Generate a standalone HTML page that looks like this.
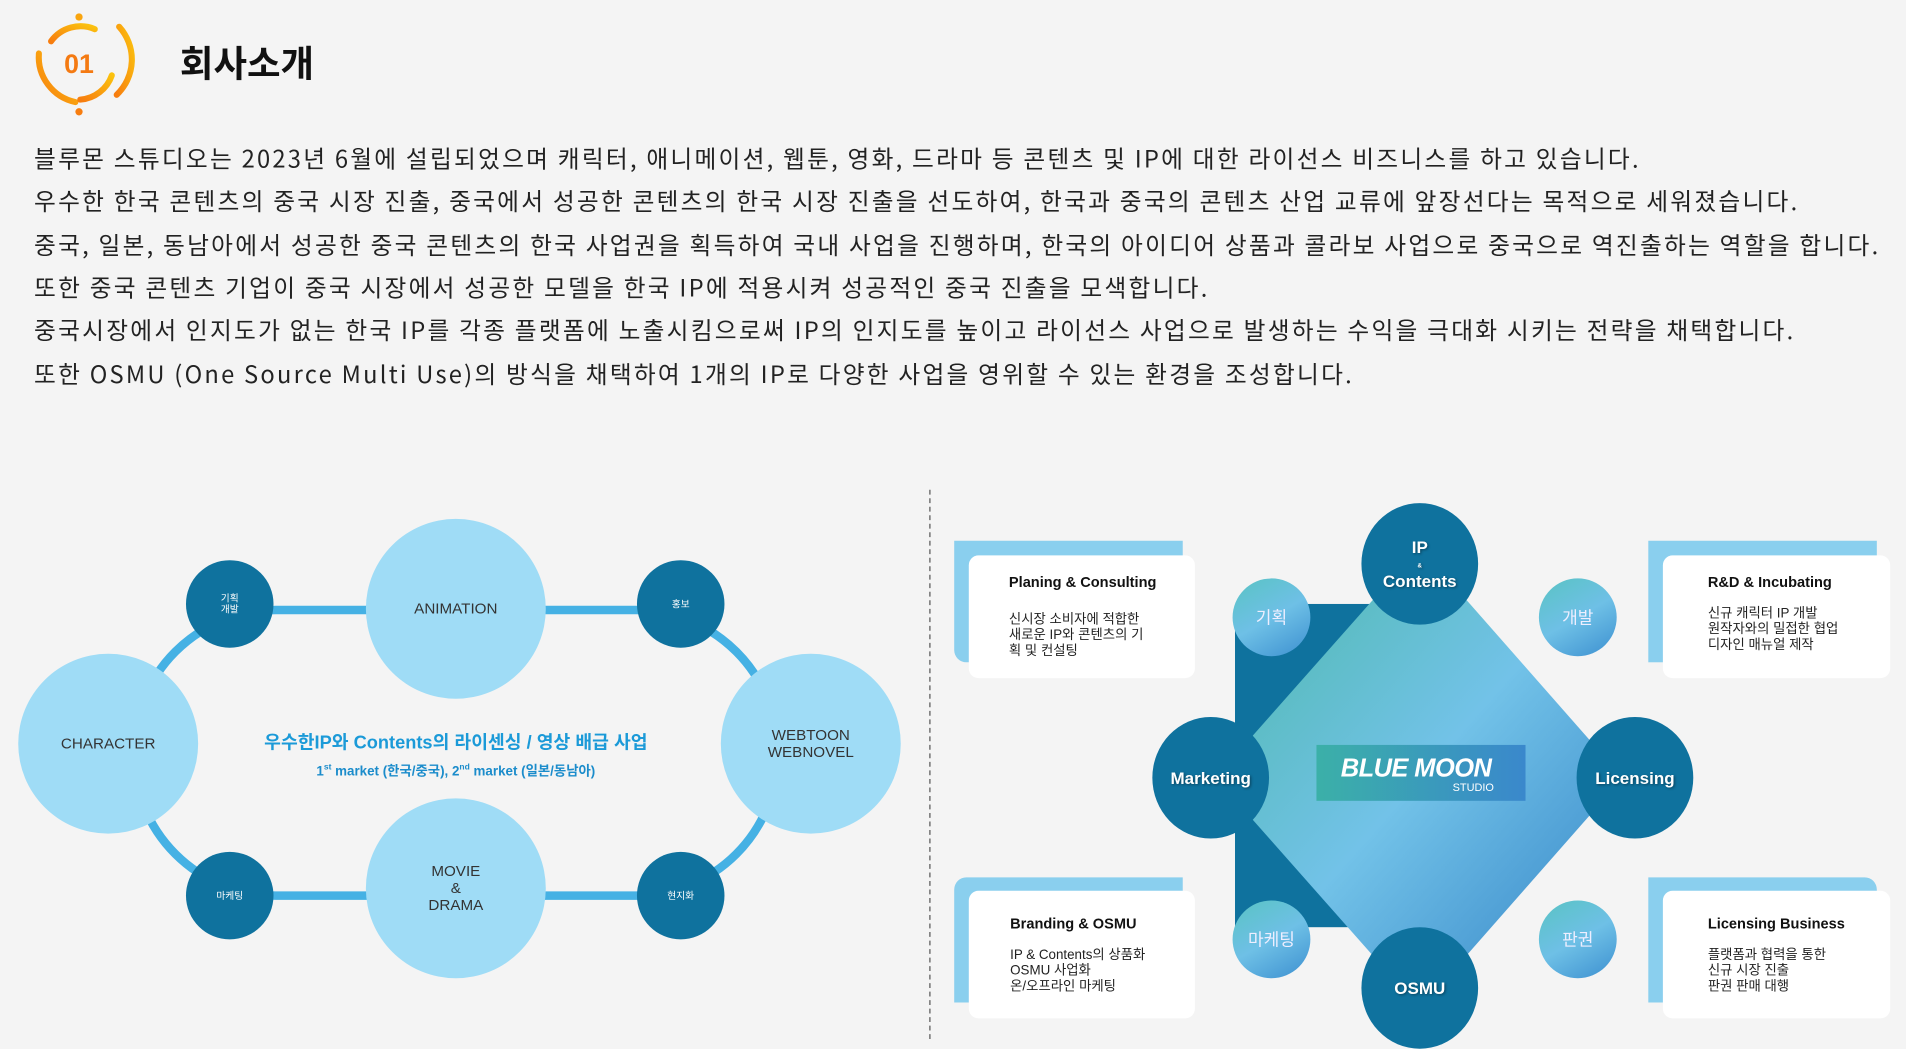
<!DOCTYPE html>
<html><head><meta charset="utf-8"><style>
html,body{margin:0;padding:0;width:1906px;height:1039px;overflow:hidden;background:#f4f4f4}
#s{position:absolute;left:0;top:0;width:1568px;height:855px;transform-origin:0 0;transform:scale(1.21556,1.21520);font-family:"Liberation Sans","Noto Sans CJK KR",sans-serif}
.t{position:absolute;left:28px;font-size:19.5px;color:#222;white-space:nowrap;letter-spacing:1.85px;font-family:"Noto Sans CJK KR",sans-serif;line-height:24px}
.c{position:absolute;border-radius:50%;display:flex;align-items:center;justify-content:center;text-align:center}
.lb{background:#9fdcf6;color:#333;font-size:12.5px;line-height:14px}
.dk{background:#0f729e;color:#fff;font-size:8px}
.bd{background:#0f729e;color:#fff;font-weight:bold;font-size:14px;text-shadow:1px 1px 2px rgba(0,0,0,.4)}
.sm{background:linear-gradient(150deg,#59c3c3,#6ec0e6 50%,#3c8fd0);color:#eef;font-size:14px}
.bk{position:absolute;background:#8acfee}
.wc{position:absolute;background:#fff;border-radius:8px}
.ct{position:absolute;font-size:12px;font-weight:bold;color:#111}
.cb{position:absolute;font-size:11px;line-height:13px;color:#222}
</style></head><body><div id="s">
<svg width="1568" height="855" style="position:absolute;left:0;top:0">
<defs><linearGradient id="og" x1="0" y1="1" x2="1" y2="0"><stop offset="0" stop-color="#f77d0f"/><stop offset="1" stop-color="#fbc20f"/></linearGradient>
<linearGradient id="dg" x1="0" y1="0" x2="1" y2="1"><stop offset="0" stop-color="#4ab8a6"/><stop offset=".5" stop-color="#72c2e8"/><stop offset="1" stop-color="#2f7fc4"/></linearGradient></defs>
<g fill="none" stroke="url(#og)" stroke-width="5" stroke-linecap="round">
<path d="M62 84 A38 38 0 0 1 32 44"/><path d="M98 22 A40 40 0 0 1 96 78"/><path d="M42 34 A30 30 0 0 1 78 24"/><path d="M92 62 A30 30 0 0 1 66 82"/></g>
<circle cx="65" cy="14" r="3" fill="#f9a50f"/><circle cx="65" cy="92" r="3" fill="#f77d0f"/>
<text x="65" y="60" text-anchor="middle" font-size="22" font-weight="bold" fill="#f47a12" font-family="Liberation Sans">01</text>
<line x1="765" y1="403" x2="765" y2="855" stroke="#555" stroke-dasharray="4,3"/>
<rect x="110" y="502" width="530" height="235" rx="117" fill="none" stroke="#45b1e4" stroke-width="7"/>
<rect x="1016" y="497" width="181" height="266" fill="#0f729e"/>
<polygon points="1168,450 1335,640 1168,830 1000,640" fill="url(#dg)"/>
</svg>
<div style="position:absolute;left:148px;top:28px;font-size:30px;font-weight:bold;color:#111">회사소개</div>
<div class="t" style="top:118px">블루몬 스튜디오는 2023년 6월에 설립되었으며 캐릭터, 애니메이션, 웹툰, 영화, 드라마 등 콘텐츠 및 IP에 대한 라이선스 비즈니스를 하고 있습니다.</div>
<div class="t" style="top:153px">우수한 한국 콘텐츠의 중국 시장 진출, 중국에서 성공한 콘텐츠의 한국 시장 진출을 선도하여, 한국과 중국의 콘텐츠 산업 교류에 앞장선다는 목적으로 세워졌습니다.</div>
<div class="t" style="top:189px">중국, 일본, 동남아에서 성공한 중국 콘텐츠의 한국 사업권을 획득하여 국내 사업을 진행하며, 한국의 아이디어 상품과 콜라보 사업으로 중국으로 역진출하는 역할을 합니다.</div>
<div class="t" style="top:224px">또한 중국 콘텐츠 기업이 중국 시장에서 성공한 모델을 한국 IP에 적용시켜 성공적인 중국 진출을 모색합니다.</div>
<div class="t" style="top:259px">중국시장에서 인지도가 없는 한국 IP를 각종 플랫폼에 노출시킴으로써 IP의 인지도를 높이고 라이선스 사업으로 발생하는 수익을 극대화 시키는 전략을 채택합니다.</div>
<div class="t" style="top:295px">또한 OSMU (One Source Multi Use)의 방식을 채택하여 1개의 IP로 다양한 사업을 영위할 수 있는 환경을 조성합니다.</div>

<div class="c lb" style="left:301px;top:427px;width:148px;height:148px">ANIMATION</div>
<div class="c lb" style="left:301px;top:657px;width:148px;height:148px"><div>MOVIE<br>&amp;<br>DRAMA</div></div>
<div class="c lb" style="left:15px;top:538px;width:148px;height:148px">CHARACTER</div>
<div class="c lb" style="left:593px;top:538px;width:148px;height:148px"><div>WEBTOON<br>WEBNOVEL</div></div>
<div class="c dk" style="left:153px;top:461px;width:72px;height:72px;line-height:9px"><div>기획<br>개발</div></div>
<div class="c dk" style="left:524px;top:461px;width:72px;height:72px">홍보</div>
<div class="c dk" style="left:153px;top:701px;width:72px;height:72px">마케팅</div>
<div class="c dk" style="left:524px;top:701px;width:72px;height:72px">현지화</div>
<div style="position:absolute;left:175px;width:400px;top:600px;text-align:center;font-size:15px;font-weight:bold;color:#1b9ad8">우수한IP와 Contents의 라이센싱 / 영상 배급 사업</div>
<div style="position:absolute;left:175px;width:400px;top:626px;text-align:center;font-size:11px;font-weight:bold;color:#1b8ccb">1<sup style="font-size:7px">st</sup> market (한국/중국), 2<sup style="font-size:7px">nd</sup> market (일본/동남아)</div>

<div class="c sm" style="left:1014px;top:476px;width:64px;height:64px">기획</div>
<div class="c sm" style="left:1266px;top:476px;width:64px;height:64px">개발</div>
<div class="c sm" style="left:1014px;top:741px;width:64px;height:64px">마케팅</div>
<div class="c sm" style="left:1266px;top:741px;width:64px;height:64px">판권</div>
<div class="c bd" style="left:1120px;top:414px;width:96px;height:100px"><div style="line-height:12px">IP<br><span style="font-size:5px">&amp;</span><br>Contents</div></div>
<div class="c bd" style="left:948px;top:590px;width:96px;height:100px">Marketing</div>
<div class="c bd" style="left:1297px;top:590px;width:96px;height:100px">Licensing</div>
<div class="c bd" style="left:1120px;top:763px;width:96px;height:100px">OSMU</div>
<div style="position:absolute;left:1083px;top:613px;width:172px;height:46px;background:linear-gradient(90deg,#3bb0a8,#3a88cc);color:#fff">
<div style="position:absolute;left:20px;top:8px;font-size:21px;font-weight:bold;font-style:italic;letter-spacing:-0.5px">BLUE MOON</div>
<div style="position:absolute;left:112px;top:30px;font-size:9px">STUDIO</div></div>

<div class="bk" style="left:785px;top:445px;width:188px;height:100px;border-radius:0 0 0 10px"></div>
<div class="wc" style="left:797px;top:457px;width:186px;height:101px"></div>
<div class="ct" style="left:830px;top:472px">Planing &amp; Consulting</div>
<div class="cb" style="left:830px;top:504px">신시장 소비자에 적합한<br>새로운 IP와 콘텐츠의 기<br>획 및 컨설팅</div>
<div class="bk" style="left:1356px;top:445px;width:188px;height:100px"></div>
<div class="wc" style="left:1368px;top:457px;width:187px;height:101px"></div>
<div class="ct" style="left:1405px;top:472px">R&amp;D &amp; Incubating</div>
<div class="cb" style="left:1405px;top:499px">신규 캐릭터 IP 개발<br>원작자와의 밀접한 협업<br>디자인 매뉴얼 제작</div>
<div class="bk" style="left:785px;top:722px;width:188px;height:103px;border-radius:10px 0 0 0"></div>
<div class="wc" style="left:797px;top:733px;width:186px;height:105px"></div>
<div class="ct" style="left:831px;top:753px">Branding &amp; OSMU</div>
<div class="cb" style="left:831px;top:780px">IP &amp; Contents의 상품화<br>OSMU 사업화<br>온/오프라인 마케팅</div>
<div class="bk" style="left:1356px;top:722px;width:188px;height:103px;border-radius:0 10px 0 0"></div>
<div class="wc" style="left:1368px;top:733px;width:187px;height:105px"></div>
<div class="ct" style="left:1405px;top:753px">Licensing Business</div>
<div class="cb" style="left:1405px;top:780px">플랫폼과 협력을 통한<br>신규 시장 진출<br>판권 판매 대행</div>
</div></body></html>
